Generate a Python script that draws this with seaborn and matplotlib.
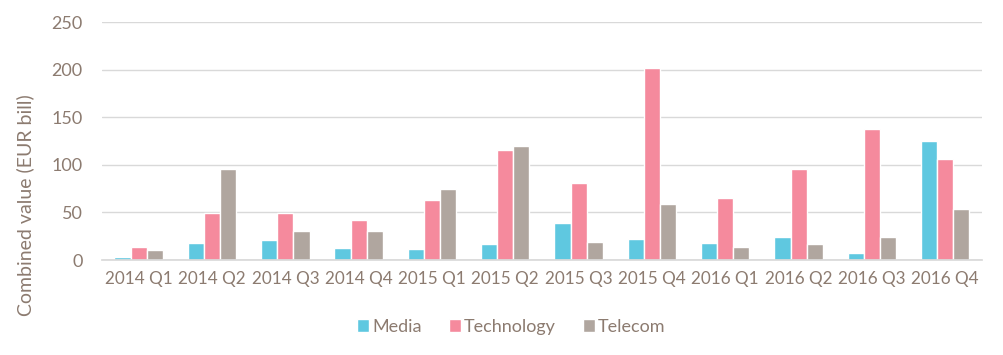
import matplotlib
matplotlib.use("Agg")
import matplotlib.pyplot as plt
import seaborn as sns
import pandas as pd

categories = ["2014 Q1", "2014 Q2", "2014 Q3", "2014 Q4", "2015 Q1", "2015 Q2",
              "2015 Q3", "2015 Q4", "2016 Q1", "2016 Q2", "2016 Q3", "2016 Q4"]
media = [3, 18, 21, 13, 12, 17, 39, 22, 18, 24, 7, 125]
technology = [14, 49, 49, 42, 63, 116, 81, 202, 65, 96, 138, 106]
telecom = [11, 96, 30, 30, 75, 120, 19, 59, 14, 17, 24, 54]
series_names = ["Media", "Technology", "Telecom"]
colors = ["#5fc8e0", "#f58a9d", "#b0a69f"]
yticks = [0, 50, 100, 150, 200, 250]

rows = []
for name, vals in zip(series_names, [media, technology, telecom]):
    for c, v in zip(categories, vals):
        rows.append({"Quarter": c, "Sector": name, "Value": v})
df = pd.DataFrame(rows)

sns.set_theme(style="white")
plt.rcParams['font.family'] = ['Lato', 'DejaVu Sans']
text_color = "#8c7b70"

fig = plt.figure(figsize=(10.04, 3.55), dpi=100)
ax = fig.add_axes([0.1016, 0.2676, 0.8764, 0.6694])
sns.barplot(data=df, x="Quarter", y="Value", hue="Sector", order=categories,
            hue_order=series_names, palette=colors, width=0.66, gap=0,
            saturation=1, ax=ax, legend=True)

ax.set_ylim(0, 250)
ax.set_xlim(-0.5, len(categories) - 0.5)
ax.set_yticks(yticks)
ax.set_yticklabels([str(t) for t in yticks])
ax.yaxis.grid(True, color="#d9d9d9", linewidth=1)
ax.set_axisbelow(True)
for s in ["top", "right", "left"]:
    ax.spines[s].set_visible(False)
ax.spines["bottom"].set_color("#d9d9d9")
ax.tick_params(axis="y", length=0, labelsize=13, colors=text_color, pad=14)
ax.tick_params(axis="x", length=0, labelsize=12.3, colors=text_color, pad=8)
ax.set_xlabel("")
ax.set_ylabel("")
fig.text(25 / 1004, 1 - 205 / 355, "Combined value (EUR bill)", rotation=90,
         ha="center", va="center", fontsize=14, color=text_color)

handles, labels = ax.get_legend_handles_labels()
ax.legend(handles, labels, loc="upper center", bbox_to_anchor=(0.465, -0.18),
          ncol=3, frameon=False, fontsize=13, labelcolor=text_color,
          handlelength=0.7, handleheight=0.7, handletextpad=0.15, columnspacing=1.5)

fig.savefig("out.png", dpi=100)
